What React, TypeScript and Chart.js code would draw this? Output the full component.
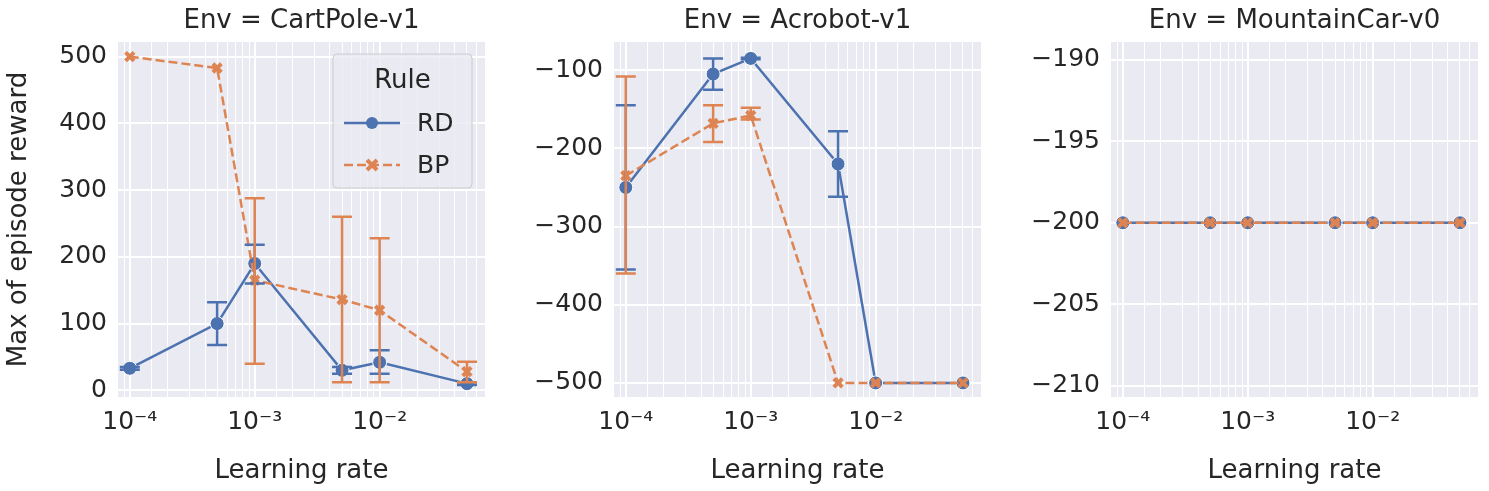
import { Chart, registerables } from "chart.js";
import { useEffect, useRef } from "react";

Chart.register(...registerables);

const learningRates = [1e-4, 5e-4, 1e-3, 5e-3, 1e-2, 5e-2];

const cartRD = [33, 100, 190, 30, 42, 10];
const cartRDLow = [31, 68, 160, 25, 25, 8];
const cartRDHigh = [35, 132, 218, 35, 60, 12];
const cartBP = [500, 483, 165, 136, 120, 28];
const cartBPLow = [500, 483, 40, 12, 12, 12];
const cartBPHigh = [500, 483, 288, 260, 228, 43];

const acroRD = [-250, -105, -85, -220, -500, -500];
const acroRDLow = [-355, -125, -86, -262, -500, -500];
const acroRDHigh = [-145, -85, -84, -178, -500, -500];
const acroBP = [-235, -168, -158, -500, -500, -500];
const acroBPLow = [-360, -192, -163, -500, -500, -500];
const acroBPHigh = [-108, -145, -148, -500, -500, -500];

const mountRD = [-200, -200, -200, -200, -200, -200];
const mountBP = [-200, -200, -200, -200, -200, -200];

const BLUE = "#4C72B0";
const ORANGE = "#DD8452";
const FONT = "'DejaVu Sans', sans-serif";
const TEXT = "#262626";

const sup: Record<string, string> = { "-": "⁻", "0": "⁰", "1": "¹", "2": "²", "3": "³", "4": "⁴" };

interface Panel {
  title: string;
  rd: number[];
  bp: number[];
  rdErr?: [number[], number[]];
  bpErr?: [number[], number[]];
  yMin: number;
  yMax: number;
  step: number;
  yTitle?: string;
  legend?: boolean;
}

const panels: Panel[] = [
  { title: "Env = CartPole-v1", rd: cartRD, bp: cartBP, rdErr: [cartRDLow, cartRDHigh], bpErr: [cartBPLow, cartBPHigh], yMin: -10, yMax: 522, step: 100, yTitle: "Max of episode reward", legend: true },
  { title: "Env = Acrobot-v1", rd: acroRD, bp: acroBP, rdErr: [acroRDLow, acroRDHigh], bpErr: [acroBPLow, acroBPHigh], yMin: -518, yMax: -64, step: 100 },
  { title: "Env = MountainCar-v0", rd: mountRD, bp: mountBP, yMin: -210.7, yMax: -188.9, step: 5 },
];

const PanelChart = ({ p, left }: { p: Panel; left: number }) => {
  const ref = useRef<HTMLCanvasElement>(null);

  useEffect(() => {
    if (!ref.current) return;

    const bgPlugin = {
      id: "bg",
      beforeDraw(chart: any) {
        const { ctx, chartArea: a } = chart;
        ctx.save();
        ctx.fillStyle = "#EAEAF2";
        ctx.fillRect(a.left, a.top, a.right - a.left, a.bottom - a.top);
        ctx.fillStyle = TEXT;
        ctx.font = `26px ${FONT}`;
        ctx.textAlign = "center";
        ctx.textBaseline = "middle";
        ctx.fillText(p.title, (a.left + a.right) / 2, 21);
        ctx.restore();
      },
    };

    const errPlugin = {
      id: "err",
      afterDatasetsDraw(chart: any) {
        const { ctx, scales } = chart;
        const draw = (err: [number[], number[]] | undefined, color: string) => {
          if (!err) return;
          ctx.save();
          ctx.strokeStyle = color;
          ctx.lineWidth = 2.5;
          learningRates.forEach((lr, i) => {
            const lo = err[0][i], hi = err[1][i];
            if (hi - lo < 0.5) return;
            const x = scales.x.getPixelForValue(lr);
            const y1 = scales.y.getPixelForValue(lo);
            const y2 = scales.y.getPixelForValue(hi);
            ctx.beginPath();
            ctx.moveTo(x, y1); ctx.lineTo(x, y2);
            ctx.moveTo(x - 10, y1); ctx.lineTo(x + 10, y1);
            ctx.moveTo(x - 10, y2); ctx.lineTo(x + 10, y2);
            ctx.stroke();
          });
          ctx.restore();
        };
        draw(p.rdErr, BLUE);
        draw(p.bpErr, ORANGE);
      },
    };

    const legendPlugin = {
      id: "leg",
      afterDraw(chart: any) {
        if (!p.legend) return;
        const { ctx, chartArea: a } = chart;
        const x0 = a.right - 153, y0 = a.top + 12, w = 139, h = 134;
        ctx.save();
        ctx.fillStyle = "rgba(234,234,242,0.8)";
        ctx.strokeStyle = "#CCCCCC";
        ctx.lineWidth = 1;
        ctx.beginPath();
        ctx.roundRect(x0, y0, w, h, 4);
        ctx.fill(); ctx.stroke();
        ctx.fillStyle = TEXT;
        ctx.font = `26px ${FONT}`;
        ctx.textAlign = "center";
        ctx.textBaseline = "middle";
        ctx.fillText("Rule", x0 + w / 2, y0 + 27);
        ctx.textAlign = "left";
        ctx.font = `25px ${FONT}`;
        const rows = [
          { label: "RD", color: BLUE, dash: [] as number[], y: y0 + 69 },
          { label: "BP", color: ORANGE, dash: [9, 4], y: y0 + 111 },
        ];
        rows.forEach((r) => {
          ctx.strokeStyle = r.color;
          ctx.lineWidth = 2.5;
          ctx.setLineDash(r.dash);
          ctx.beginPath();
          ctx.moveTo(x0 + 11, r.y); ctx.lineTo(x0 + 67, r.y);
          ctx.stroke();
          ctx.setLineDash([]);
          const cx = x0 + 39;
          if (r.label === "RD") {
            ctx.fillStyle = r.color;
            ctx.beginPath(); ctx.arc(cx, r.y, 6, 0, Math.PI * 2); ctx.fill();
          } else {
            ctx.lineWidth = 4;
            ctx.beginPath();
            ctx.moveTo(cx - 5, r.y - 5); ctx.lineTo(cx + 5, r.y + 5);
            ctx.moveTo(cx + 5, r.y - 5); ctx.lineTo(cx - 5, r.y + 5);
            ctx.stroke();
          }
          ctx.fillStyle = TEXT;
          ctx.fillText(r.label, x0 + 84, r.y + 1);
        });
        ctx.restore();
      },
    };

    const chart = new Chart(ref.current, {
      type: "line",
      data: {
        datasets: [
          {
            label: "RD",
            order: 1,
            data: learningRates.map((x, i) => ({ x, y: p.rd[i] })),
            borderColor: BLUE,
            backgroundColor: BLUE,
            borderWidth: 2.5,
            pointRadius: 7,
            pointBorderColor: "#ffffff",
            pointBorderWidth: 1,
            pointStyle: "circle",
          },
          {
            label: "BP",
            order: 0,
            data: learningRates.map((x, i) => ({ x, y: p.bp[i] })),
            borderColor: ORANGE,
            backgroundColor: ORANGE,
            borderWidth: 2.5,
            borderDash: [9, 4],
            pointRadius: 6,
            pointBorderColor: ORANGE,
            pointBorderWidth: 4,
            pointStyle: "crossRot",
          },
        ],
      },
      options: {
        animation: false,
        responsive: false,
        maintainAspectRatio: false,
        layout: { padding: { left: 0, right: 10, top: 42, bottom: 0 } },
        plugins: {
          legend: { display: false },
          tooltip: { enabled: false },
        },
        scales: {
          x: {
            type: "logarithmic",
            min: 7.9e-5,
            max: 7.1e-2,
            border: { display: false },
            grid: {
              color: "#ffffff",
              lineWidth: (c: any) => {
                const v = c.tick?.value;
                if (!v) return 1;
                const l = Math.log10(v);
                return Math.abs(l - Math.round(l)) < 1e-6 ? 2 : 1;
              },
              drawTicks: false,
            },
            ticks: {
              color: TEXT,
              font: { family: FONT, size: 25 },
              autoSkip: false,
              maxRotation: 0,
              padding: 10,
              callback: (v: any) => {
                const l = Math.log10(Number(v));
                if (Math.abs(l - Math.round(l)) > 1e-6) return "";
                return "10" + String(Math.round(l)).split("").map((c) => sup[c]).join("");
              },
            },
            title: {
              display: true,
              text: "Learning rate",
              color: TEXT,
              font: { family: FONT, size: 26 },
              padding: { top: 0 },
            },
            afterFit: (s: any) => { s.height = 94; },
          },
          y: {
            min: p.yMin,
            max: p.yMax,
            border: { display: false },
            grid: { color: "#ffffff", lineWidth: 2, drawTicks: false },
            ticks: {
              color: TEXT,
              font: { family: FONT, size: 25 },
              stepSize: p.step,
              padding: 10,
              callback: (v: any) => String(v).replace("-", "−"),
            },
            afterBuildTicks: (s: any) => {
              const t = [];
              for (let v = Math.ceil(p.yMin / p.step) * p.step; v <= p.yMax; v += p.step) t.push({ value: v });
              s.ticks = t;
            },
            title: {
              display: !!p.yTitle,
              text: p.yTitle || "",
              color: TEXT,
              font: { family: FONT, size: 26 },
              padding: { bottom: 2 },
            },
            afterFit: (s: any) => { s.width = 117; },
          },
        },
      },
      plugins: [bgPlugin, errPlugin, legendPlugin],
    } as any);

    return () => chart.destroy();
  }, [p]);

  return (
    <div style={{ position: "absolute", left, top: 0, width: 496, height: 491 }}>
      <canvas ref={ref} width={496} height={491} style={{ width: 496, height: 491 }} />
    </div>
  );
};

export default function App() {
  return (
    <div style={{ position: "absolute", left: 0, top: 0, width: 1489, height: 491, background: "#ffffff" }}>
      {panels.map((p, i) => (
        <PanelChart key={i} p={p} left={[0, 496, 993][i]} />
      ))}
    </div>
  );
}
